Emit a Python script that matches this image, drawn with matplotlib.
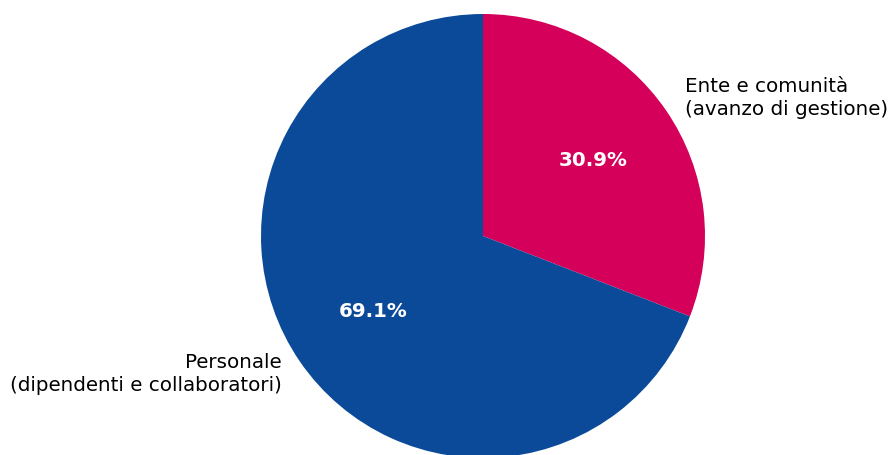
import matplotlib
matplotlib.use("Agg")
import matplotlib.pyplot as plt

labels = ["Ente e comunità\n(avanzo di gestione)", "Personale\n(dipendenti e collaboratori)"]
shares = [30.9, 69.1]
colors = ["#D4005A", "#0B4A99"]

W, H, DPI = 892, 455, 120
fig = plt.figure(figsize=(W / DPI, H / DPI), dpi=DPI)

# pie centred at (483, 236) px with a radius of 222 px
cx, cy, r = 483, 236, 222
ax = fig.add_axes([(cx - r) / W, (H - cy - r) / H, 2 * r / W, 2 * r / H])

wedges, texts, autotexts = ax.pie(shares, labels=labels, colors=colors,
                                  startangle=90, counterclock=False,
                                  autopct="%1.1f%%",
                                  textprops={"fontsize": 11.9})
for t in texts:
    t.set_linespacing(1.3)
for t in autotexts:
    t.set_color("white")
    t.set_fontweight("bold")
ax.set_xlim(-1, 1)
ax.set_ylim(-1, 1)
ax.set_aspect("equal")
for w in wedges:
    w.set_clip_on(False)

fig.savefig("out.png", dpi=DPI)
